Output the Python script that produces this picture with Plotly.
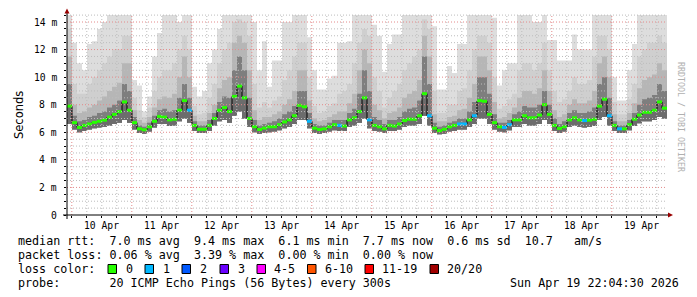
import plotly.graph_objects as go
import pandas as pd

# ---------------- data ----------------
START = "2026-04-09 22:04:30"
END = "2026-04-19 22:04:30"
STEP_HOURS = 2

median_ms = [7.9, 6.7, 6.35, 6.5, 6.6, 6.72, 6.8, 6.88, 7.1, 7.3,
             7.5, 8.2, 7.6, 6.7, 6.25, 6.18, 6.4, 6.8, 7.15, 7.1,
             6.9, 6.95, 7.6, 8.3, 7.6, 6.5, 6.22, 6.22, 6.5, 7.0,
             7.6, 7.8, 7.5, 8.6, 9.35, 8.5, 7.0, 6.4, 6.2, 6.3,
             6.4, 6.4, 6.55, 6.75, 6.9, 7.2, 7.95, 7.85, 6.8, 6.3,
             6.2, 6.25, 6.4, 6.55, 6.5, 6.45, 6.9, 7.05, 7.5, 8.5,
             6.9, 6.5, 6.4, 6.25, 6.5, 6.45, 6.6, 6.85, 6.95, 6.95,
             7.2, 8.8, 7.2, 6.3, 6.12, 6.22, 6.4, 6.5, 6.6, 6.6,
             6.9, 7.2, 8.3, 8.25, 7.3, 6.7, 6.4, 6.35, 6.55, 6.9,
             6.9, 7.2, 7.05, 7.05, 7.25, 8.0, 7.3, 6.5, 6.28, 6.4,
             6.9, 7.05, 6.9, 6.85, 6.88, 6.95, 7.9, 8.4, 7.2, 6.5,
             6.25, 6.25, 6.55, 6.95, 7.25, 7.45, 7.45, 7.6, 8.2, 7.75]

loss_pings = [0, 0, 0, 0, 0, 0, 0, 0, 0, 0,
              0, 0, 0, 0, 0, 0, 0, 0, 0, 0,
              0, 0, 0, 0, 1, 0, 0, 0, 0, 0,
              0, 0, 0, 0, 0, 0, 0, 0, 0, 0,
              0, 0, 0, 0, 0, 0, 0, 0, 1, 0,
              0, 0, 0, 0, 1, 0, 0, 0, 0, 0,
              1, 0, 0, 0, 0, 0, 0, 0, 0, 0,
              0, 0, 1, 0, 0, 0, 0, 0, 1, 1,
              0, 1, 0, 0, 0, 0, 0, 1, 1, 0,
              0, 0, 0, 0, 0, 0, 0, 0, 0, 0,
              0, 0, 0, 1, 0, 0, 0, 0, 1, 0,
              1, 0, 0, 0, 0, 0, 0, 0, 0, 0]

smoke_max = [14.5, 12.5, 11.0, 10.5, 12.4, 12.6, 13.5, 14.0, 14.5, 14.5,
             14.5, 14.5, 14.5, 9.8, 9.4, 7.5, 8.6, 11.5, 13.2, 14.5,
             14.5, 14.5, 14.0, 14.5, 14.5, 9.3, 8.6, 9.0, 11.0, 12.0,
             13.5, 14.5, 14.5, 14.5, 14.5, 14.5, 14.5, 14.0, 10.5, 12.6,
             9.3, 11.2, 11.2, 14.0, 14.0, 14.5, 14.5, 14.5, 12.9, 10.5,
             9.1, 9.1, 9.9, 10.1, 12.5, 12.5, 12.6, 14.5, 14.5, 14.5,
             14.5, 13.8, 13.0, 10.4, 12.4, 13.1, 13.1, 14.5, 14.5, 14.5,
             14.5, 14.5, 14.5, 13.7, 9.1, 9.1, 10.8, 10.3, 12.4, 12.4,
             14.5, 14.5, 14.5, 14.5, 14.5, 14.3, 9.4, 10.5, 11.0, 11.0,
             14.5, 14.5, 14.5, 14.0, 14.0, 14.5, 12.7, 12.7, 11.2, 11.2,
             11.2, 13.1, 12.0, 12.0, 12.0, 14.5, 14.5, 14.5, 14.5, 10.0,
             8.3, 8.3, 10.5, 12.4, 14.5, 14.5, 14.5, 14.5, 14.5, 14.5]

smoke_p80 = [13.5, 9.5, 8.8, 8.8, 9.5, 10.0, 10.5, 11.0, 11.5, 12.0,
             12.0, 13.0, 13.0, 8.5, 7.6, 7.1, 7.8, 9.0, 10.0, 10.5,
             10.5, 11.0, 12.0, 13.0, 12.0, 7.9, 7.3, 7.4, 8.5, 9.5,
             11.0, 12.0, 12.5, 14.0, 14.2, 14.0, 13.0, 9.5, 7.8, 8.2,
             7.8, 8.3, 8.6, 9.8, 10.5, 11.5, 12.5, 12.5, 10.0, 7.9,
             7.4, 7.5, 7.9, 8.1, 8.8, 9.0, 9.5, 11.0, 12.5, 13.5,
             13.0, 10.0, 9.0, 7.8, 8.5, 9.0, 9.5, 10.5, 11.0, 11.5,
             12.0, 14.2, 13.5, 9.0, 7.4, 7.4, 8.0, 8.0, 9.0, 9.2,
             10.5, 12.0, 13.0, 13.0, 12.5, 10.0, 7.7, 7.9, 8.4, 8.8,
             10.5, 11.0, 11.0, 10.5, 11.0, 12.5, 10.5, 9.0, 8.2, 8.4,
             9.0, 10.0, 9.5, 9.5, 9.8, 11.5, 13.0, 13.0, 12.0, 8.2,
             7.3, 7.3, 8.4, 9.5, 11.5, 12.0, 12.5, 12.5, 13.0, 12.5]

smoke_p60 = [11.5, 8.0, 7.4, 7.5, 7.8, 8.0, 8.3, 8.6, 9.0, 9.3,
             9.6, 11.0, 11.0, 7.6, 6.9, 6.7, 7.1, 7.8, 8.4, 8.6,
             8.5, 8.8, 10.0, 11.5, 10.0, 7.2, 6.8, 6.8, 7.4, 8.0,
             9.2, 9.8, 10.0, 12.5, 13.0, 12.5, 10.5, 7.6, 6.9, 7.1,
             7.1, 7.3, 7.5, 8.0, 8.4, 9.0, 10.5, 10.5, 8.3, 7.0,
             6.8, 6.9, 7.1, 7.3, 7.5, 7.5, 8.1, 8.8, 10.5, 12.0,
             11.0, 8.0, 7.6, 7.0, 7.4, 7.5, 7.8, 8.5, 8.8, 9.0,
             9.8, 13.0, 11.5, 7.3, 6.8, 6.8, 7.1, 7.2, 7.6, 7.7,
             8.5, 9.5, 11.5, 11.5, 10.5, 8.2, 7.0, 7.1, 7.4, 7.8,
             8.5, 9.0, 9.0, 8.8, 9.2, 10.5, 9.0, 7.6, 7.1, 7.3,
             8.0, 8.4, 8.1, 8.1, 8.3, 9.0, 11.0, 11.5, 10.0, 7.3,
             6.8, 6.8, 7.4, 8.1, 9.2, 9.8, 10.0, 10.2, 11.0, 10.5]

smoke_p40 = [9.5, 7.2, 6.8, 6.9, 7.1, 7.2, 7.4, 7.5, 7.8, 8.0,
             8.3, 9.5, 9.0, 7.1, 6.5, 6.4, 6.7, 7.2, 7.6, 7.7,
             7.5, 7.6, 8.5, 9.5, 8.5, 6.8, 6.5, 6.5, 6.9, 7.4,
             8.2, 8.6, 8.5, 10.5, 11.5, 10.5, 8.5, 6.9, 6.5, 6.6,
             6.7, 6.8, 7.0, 7.3, 7.5, 7.9, 9.0, 9.0, 7.4, 6.6,
             6.5, 6.5, 6.7, 6.9, 6.9, 6.9, 7.4, 7.7, 8.8, 10.5,
             9.0, 7.1, 6.9, 6.6, 6.9, 6.9, 7.1, 7.5, 7.7, 7.8,
             8.3, 11.5, 9.5, 6.7, 6.4, 6.5, 6.7, 6.8, 7.0, 7.0,
             7.5, 8.2, 10.0, 10.0, 8.8, 7.3, 6.7, 6.7, 6.9, 7.3,
             7.5, 7.9, 7.8, 7.8, 8.0, 9.0, 8.0, 7.0, 6.6, 6.8,
             7.4, 7.6, 7.4, 7.4, 7.5, 7.8, 9.5, 10.0, 8.5, 6.8,
             6.5, 6.5, 6.9, 7.4, 8.0, 8.4, 8.5, 8.7, 9.5, 9.0]

smoke_min = [6.6, 6.2, 6.0, 6.1, 6.2, 6.3, 6.35, 6.4, 6.5, 6.6,
             6.7, 6.9, 6.7, 6.2, 5.95, 5.9, 6.05, 6.35, 6.6, 6.6,
             6.45, 6.5, 6.8, 7.0, 6.7, 6.1, 5.95, 5.95, 6.1, 6.5,
             6.8, 6.9, 6.7, 7.2, 7.5, 7.0, 6.4, 6.0, 5.9, 5.95,
             6.0, 6.05, 6.15, 6.3, 6.4, 6.6, 6.9, 6.9, 6.3, 5.95,
             5.9, 5.95, 6.05, 6.15, 6.1, 6.1, 6.4, 6.5, 6.7, 7.0,
             6.3, 6.1, 6.05, 5.95, 6.1, 6.1, 6.2, 6.4, 6.5, 6.5,
             6.6, 7.2, 6.5, 5.95, 5.85, 5.9, 6.05, 6.1, 6.2, 6.2,
             6.4, 6.6, 7.0, 7.0, 6.6, 6.2, 6.05, 6.0, 6.15, 6.4,
             6.4, 6.6, 6.5, 6.5, 6.6, 6.9, 6.6, 6.1, 5.95, 6.05,
             6.4, 6.5, 6.4, 6.35, 6.4, 6.45, 6.9, 7.1, 6.5, 6.1,
             5.95, 5.95, 6.15, 6.45, 6.65, 6.8, 6.8, 6.9, 7.1, 7.0]

y_tick_values = [0, 2, 4, 6, 8, 10, 12, 14]
y_tick_labels = ["0", "2 m", "4 m", "6 m", "8 m", "10 m", "12 m", "14 m"]
day_labels = ["10 Apr", "11 Apr", "12 Apr", "13 Apr", "14 Apr",
              "15 Apr", "16 Apr", "17 Apr", "18 Apr", "19 Apr"]
loss_labels = ["0", "1", "2", "3", "4-5", "6-10", "11-19", "20/20"]
loss_colors = ["#26ff00", "#00b8ff", "#0059ff", "#6a00ff",
               "#ff00ff", "#ff5500", "#ff0000", "#a10000"]

stat_rtt = "median rtt:  7.0 ms avg  9.4 ms max  6.1 ms min  7.7 ms now  0.6 ms sd  10.7   am/s"
stat_loss = "packet loss: 0.06 % avg  3.39 % max  0.00 % min  0.00 % now"
probe_text = "probe:       20 ICMP Echo Pings (56 Bytes) every 300s"
stamp_text = "Sun Apr 19 22:04:30 2026"

# ---------------- geometry ----------------
W, H = 697, 297
L, R, T, B = 67, 667, 14, 215
YMAX = 14.58
MONO = "DejaVu Sans Mono"


def px(x):
    return (x - L) / (R - L)


def py(y):
    return (B - y) / (B - T)


def nb(s):
    return s.replace(" ", "\u00a0")


n = len(median_ms)
t_edges = pd.date_range(START, periods=n + 1, freq=f"{STEP_HOURS}h")


def ext(a):
    return list(a) + [a[-1]]


fig = go.Figure()

bands = [(smoke_max, "#dddddd"), (smoke_p80, "#cfcfcf"),
         (smoke_p60, "#b6b6b6"), (smoke_p40, "#7e7e7e"),
         (median_ms, "#6c6c6c")]
for top, col in bands:
    fig.add_trace(go.Scatter(x=t_edges, y=ext(smoke_min), mode="lines",
                             line=dict(width=0, shape="hv"),
                             hoverinfo="skip", showlegend=False))
    fig.add_trace(go.Scatter(x=t_edges, y=ext(top), mode="lines",
                             line=dict(width=0, shape="hv"), fill="tonexty",
                             fillcolor=col, hoverinfo="skip", showlegend=False))

# black connecting median line
fig.add_trace(go.Scatter(x=t_edges, y=ext(median_ms), mode="lines",
                         line=dict(color="#000000", width=1, shape="hv"),
                         hoverinfo="skip", showlegend=False))


def loss_bucket(k):
    if k <= 3:
        return k
    if k <= 5:
        return 4
    if k <= 10:
        return 5
    if k <= 19:
        return 6
    return 7


for b, col in enumerate(loss_colors):
    xs, ys = [], []
    for i in range(n):
        if loss_bucket(loss_pings[i]) == b:
            xs += [t_edges[i], t_edges[i + 1], None]
            ys += [median_ms[i], median_ms[i], None]
    if xs:
        fig.add_trace(go.Scatter(x=xs, y=ys, mode="lines",
                                 line=dict(color=col, width=3),
                                 hoverinfo="skip", showlegend=False))

shapes = []
# grid
grid_times = pd.date_range("2026-04-10 00:00", END, freq="6h")
for t in grid_times:
    major = (t.hour == 0)
    shapes.append(dict(type="line", xref="x", yref="paper", x0=t, x1=t,
                       y0=0, y1=1, layer="above",
                       line=dict(color="#e48a8a" if major else "#bcbcbc",
                                 width=1, dash="1px,2px")))
k = 1
while k * 0.5 < YMAX:
    v = k * 0.5
    major = (k % 4 == 0)
    shapes.append(dict(type="line", xref="paper", yref="y", x0=0, x1=1,
                       y0=v, y1=v, layer="above",
                       line=dict(color="#e48a8a" if major else "#bcbcbc",
                                 width=1, dash="1px,2px")))
    k += 1

# axes lines and arrows
shapes.append(dict(type="line", xref="paper", yref="paper", x0=px(L), x1=px(L),
                   y0=py(219), y1=py(12), layer="above",
                   line=dict(color="#000000", width=1)))
shapes.append(dict(type="line", xref="paper", yref="paper", x0=px(63), x1=px(669),
                   y0=py(B), y1=py(B), layer="above",
                   line=dict(color="#000000", width=1)))
shapes.append(dict(type="path", xref="paper", yref="paper", layer="above",
                   path=f"M {px(64.5)} {py(13.5)} L {px(69.5)} {py(13.5)} L {px(67)} {py(8.5)} Z",
                   fillcolor="#990000", line=dict(width=0)))
shapes.append(dict(type="path", xref="paper", yref="paper", layer="above",
                   path=f"M {px(668)} {py(212.5)} L {px(668)} {py(217.5)} L {px(673)} {py(215)} Z",
                   fillcolor="#990000", line=dict(width=0)))

annotations = []
# y axis title
annotations.append(dict(text="Seconds", x=px(10), y=py(115), xref="paper", yref="paper",
                        showarrow=False, textangle=-90,
                        font=dict(family="DejaVu Sans", size=11.5, color="#000000")))
# watermark
annotations.append(dict(text=nb("RRDTOOL / TOBI OETIKER"), x=px(688), y=py(60),
                        xref="paper", yref="paper", showarrow=False, textangle=90,
                        font=dict(family=MONO, size=8.3, color="#b0b0b0")))
# x day labels (centered at noon)
for i, lab in enumerate(day_labels):
    t = pd.Timestamp("2026-04-10 12:00") + pd.Timedelta(days=i)
    annotations.append(dict(text=nb(lab), x=t, y=py(225), xref="x", yref="paper",
                            showarrow=False, xanchor="center", yanchor="middle",
                            font=dict(family=MONO, size=9.7, color="#000000")))
# y labels
for v, lab in zip(y_tick_values, y_tick_labels):
    annotations.append(dict(text=nb(lab), x=px(58.5), y=v, xref="paper", yref="y",
                            showarrow=False, xanchor="right", yanchor="middle",
                            font=dict(family=MONO, size=9.7, color="#000000")))

# legend text rows
FS = 11.7
for txt, yy in [(stat_rtt, 241), (stat_loss, 255), ("loss color:", 269), (probe_text, 283)]:
    annotations.append(dict(text=nb(txt), x=px(16), y=py(yy), xref="paper", yref="paper",
                            showarrow=False, xanchor="left", yanchor="middle",
                            font=dict(family=MONO, size=FS, color="#000000")))
annotations.append(dict(text=nb(stamp_text), x=px(681), y=py(283), xref="paper", yref="paper",
                        showarrow=False, xanchor="right", yanchor="middle",
                        font=dict(family=MONO, size=FS, color="#000000")))

box_x = [108, 145, 182, 220, 257, 307.5, 365, 430]
lab_x = [123.6, 161, 198, 235.5, 272, 322.7, 380, 445]
for bx, lx, lab, col in zip(box_x, lab_x, loss_labels, loss_colors):
    shapes.append(dict(type="rect", xref="paper", yref="paper",
                       x0=px(bx), x1=px(bx + 8.5), y0=py(273.5), y1=py(264.5),
                       fillcolor=col, line=dict(color="#000000", width=1)))
    annotations.append(dict(text=nb(lab), x=px(lx), y=py(269), xref="paper", yref="paper",
                            showarrow=False, xanchor="left", yanchor="middle",
                            font=dict(family=MONO, size=FS, color="#000000")))

# tick marks
minor_y = [0.5 * j for j in range(0, 30) if 0.5 * j < YMAX]

fig.update_layout(
    width=W, height=H,
    margin=dict(l=L, r=W - R, t=T, b=H - B, pad=0),
    paper_bgcolor="#ffffff", plot_bgcolor="#ffffff",
    showlegend=False,
    shapes=shapes, annotations=annotations,
    xaxis=dict(type="date", range=[START, END], showgrid=False, zeroline=False,
               showline=False, ticks="outside", ticklen=2, tickcolor="#000000",
               tickvals=list(grid_times), showticklabels=False, fixedrange=True),
    yaxis=dict(range=[0, YMAX], showgrid=False, zeroline=False, showline=False,
               ticks="outside", ticklen=2, tickcolor="#000000",
               tickvals=minor_y, showticklabels=False, fixedrange=True),
)

fig.write_html("out.html")
